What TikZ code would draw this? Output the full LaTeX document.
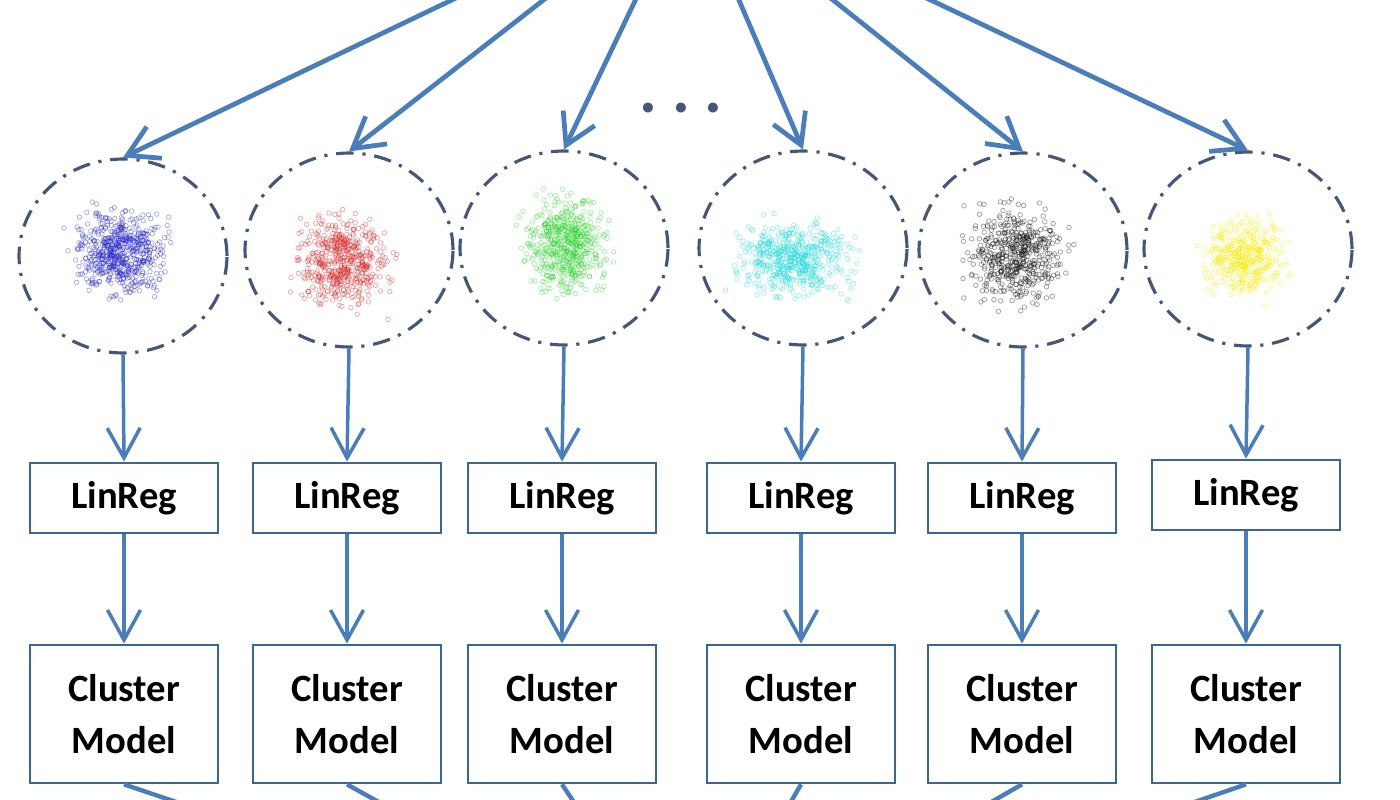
\documentclass[tikz,border=0pt]{standalone}
\usepackage{fontspec}
\setmainfont{Carlito}
\usepackage{xcolor}
\usetikzlibrary{positioning, arrows.meta, shapes.geometric}

\definecolor{arrowblue}{HTML}{4A7EBB}
\definecolor{boxblue}{HTML}{3A6596}
\definecolor{slate}{HTML}{44567A}
\definecolor{cloudblue}{RGB}{30,30,200}
\definecolor{cloudred}{RGB}{215,30,30}
\definecolor{cloudgreen}{RGB}{40,210,40}
\definecolor{cloudcyan}{RGB}{30,215,215}
\definecolor{cloudblack}{RGB}{10,10,10}
\definecolor{cloudyellow}{RGB}{245,235,20}

% cx, cy, sx, sy, colour, number of points
\newcommand{\pointcloud}[6]{%
  \foreach \i in {1,...,#6} {
    \pgfmathsetmacro{\px}{#1+#3*(rand+rand+rand)}
    \pgfmathsetmacro{\py}{#2+#4*(rand+rand+rand)}
    \draw[#5, draw opacity=0.4, line width=0.4pt] (\px,\py) circle[radius=1.3pt];
  }}

\begin{document}
\begin{tikzpicture}[x=0.02cm, y=-0.02cm, every node/.style={font=\bfseries\fontsize{22}{29.5}\selectfont}]
  \tikzset{
    ring/.style={ellipse, draw=slate, line width=1.8pt, dash pattern=on 10pt off 5pt on 1.8pt off 5pt,
      minimum width=4.16cm, minimum height=3.88cm, inner sep=0pt},
    regbox/.style={draw=boxblue, line width=1.6pt, minimum width=3.76cm, minimum height=1.4cm, inner sep=0pt},
    modelbox/.style={regbox, minimum height=2.76cm, align=center},
    feed/.style={arrowblue, line width=2.7pt, -{Straight Barb[length=6mm, width=7mm]}},
    flow/.style={arrowblue, line width=2pt, -{Straight Barb[length=6mm, width=6.6mm]}},
    merge/.style={arrowblue, line width=2.5pt},
  }
  \useasboundingbox (0,0) rectangle (1400,800);
  \clip (0,0) rectangle (1400,800);
  \coordinate (src) at (690,-114);
  \coordinate (sink) at (690,975);

  %% point clouds
  \pgfmathsetseed{7}
  \pointcloud{121}{252}{21}{19}{cloudblue}{600}
  \pointcloud{342}{262}{21}{21}{cloudred}{520}
  \pointcloud{565}{245}{18}{22}{cloudgreen}{560}
  \pointcloud{793}{258}{25}{17}{cloudcyan}{560}
  \pointcloud{1018}{255}{22}{22}{cloudblack}{520}
  \pointcloud{1245}{258}{19}{17}{cloudyellow}{460}

  %% rings round the clusters
  \node[ring] (e1) at (123,256) {};
  \node[ring] (e2) at (349,250) {};
  \node[ring] (e3) at (564,248) {};
  \node[ring] (e4) at (803,248) {};
  \node[ring] (e5) at (1023,250) {};
  \node[ring] (e6) at (1248,249) {};
  \node[slate, font=\bfseries\fontsize{38}{38}\selectfont] (dots) at (681,108) {.\kern0.3cm.\kern0.3cm.};

  %% regression and model boxes
  \node[regbox] (lr1) at (124,498) {LinReg};
  \node[regbox] (lr2) at (347,498) {LinReg};
  \node[regbox] (lr3) at (562,498) {LinReg};
  \node[regbox] (lr4) at (801,498) {LinReg};
  \node[regbox] (lr5) at (1022,498) {LinReg};
  \node[regbox] (lr6) at (1246,495) {LinReg};
  \node[modelbox] (cm1) at (124,714) {Cluster\\Model};
  \node[modelbox] (cm2) at (347,714) {Cluster\\Model};
  \node[modelbox] (cm3) at (562,714) {Cluster\\Model};
  \node[modelbox] (cm4) at (801,714) {Cluster\\Model};
  \node[modelbox] (cm5) at (1022,714) {Cluster\\Model};
  \node[modelbox] (cm6) at (1246,714) {Cluster\\Model};

  %% connectors
  \draw[feed] (src) -- (e1.north); \draw[feed] (src) -- (e2.north); \draw[feed] (src) -- (e3.north);
  \draw[feed] (src) -- (e4.north); \draw[feed] (src) -- (e5.north); \draw[feed] (src) -- (e6.north);
  \draw[flow] (e1.south) -- (lr1.north); \draw[flow] (lr1.south) -- (cm1.north);
  \draw[flow] (e2.south) -- (lr2.north); \draw[flow] (lr2.south) -- (cm2.north);
  \draw[flow] (e3.south) -- (lr3.north); \draw[flow] (lr3.south) -- (cm3.north);
  \draw[flow] (e4.south) -- (lr4.north); \draw[flow] (lr4.south) -- (cm4.north);
  \draw[flow] (e5.south) -- (lr5.north); \draw[flow] (lr5.south) -- (cm5.north);
  \draw[flow] (e6.south) -- (lr6.north); \draw[flow] (lr6.south) -- (cm6.north);
  \draw[merge] (cm1.south) -- (sink); \draw[merge] (cm2.south) -- (sink); \draw[merge] (cm3.south) -- (sink);
  \draw[merge] (cm4.south) -- (sink); \draw[merge] (cm5.south) -- (sink); \draw[merge] (cm6.south) -- (sink);
\end{tikzpicture}
\end{document}
